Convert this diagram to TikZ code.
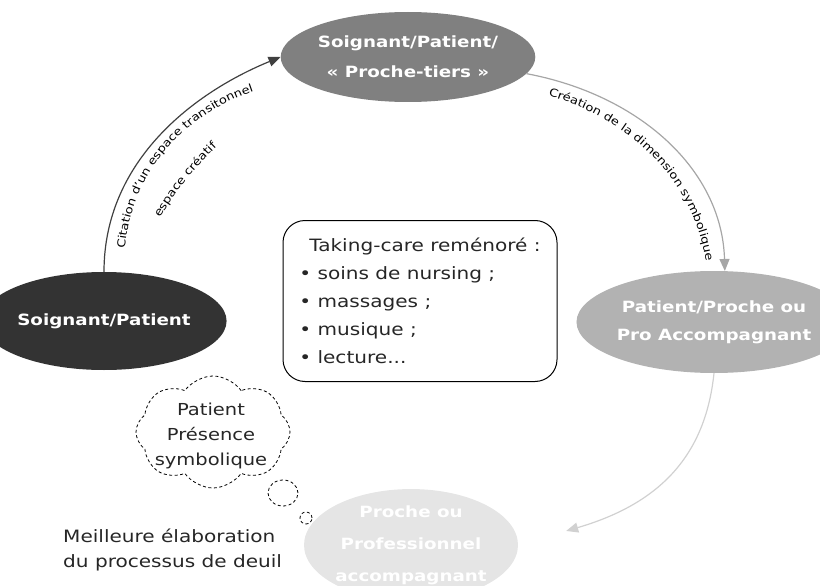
\documentclass[tikz,border=0pt]{standalone}
\usepackage{fontspec}
\setmainfont[FakeStretch=1.18]{DejaVu Sans}
\usepackage{tikz}
\usetikzlibrary{arrows.meta,shapes.geometric,shapes.symbols,decorations.text}

\begin{document}
\begin{tikzpicture}[x=1pt,y=-1pt,
        etat/.style={ellipse,inner sep=0pt,text=white,align=center,
                font=\bfseries\fontsize{15.5}{30}\selectfont},
        fleche/.style={line width=1.2pt,-{Triangle[length=12pt,width=10pt]}},
        texte/.style={text=black!85,align=center,font=\fontsize{17}{25}\selectfont},
        tirets/.style={draw,line width=0.8pt,dash pattern=on 3pt off 2.5pt}]
        \useasboundingbox (0,0) rectangle (820,586);
        \node[etat,fill=black!50,minimum width=240pt,minimum height=90pt] (tiers) at (408,57) {Soignant/Patient/\\«~Proche-tiers~»};
        \node[etat,fill=black!80,minimum width=194pt,minimum height=98pt] (soignant) at (104,321) {Soignant/Patient};
        \node[etat,fill=black!30,minimum width=212pt,minimum height=102pt,font=\bfseries\fontsize{15.5}{28}\selectfont] (proche) at (714,322) {Patient/Proche ou\\Pro Accompagnant};
        \node[etat,fill=black!10,minimum width=208pt,minimum height=92pt,font=\bfseries\fontsize{15.5}{32}\selectfont] (accomp) at (411,545) {Proche ou\\Professionnel\\accompagnant};
        \node[texte,draw=black,line width=1pt,rounded corners=22pt,minimum width=274pt,minimum height=161pt,align=left,font=\fontsize{17}{28}\selectfont] (soins) at (420,301) {\hspace*{10pt}Taking-care reménoré :\\• soins de nursing ;\\• massages ;\\• musique ;\\• lecture...};
        \node[tirets,cloud,cloud puffs=8,cloud puff arc=110,aspect=1.35,minimum width=154pt,minimum height=112pt,inner sep=0pt] (pensee) at (213,432) {};
        \node[texte,font=\fontsize{16.5}{25}\selectfont] (presence) at (211,436) {Patient\\Présence\\symbolique};
        \node[tirets,ellipse,minimum width=30pt,minimum height=26pt] (bulle) at (283,493) {};
        \node[tirets,circle,minimum size=12pt,inner sep=0pt] (bulle2) at (306,518) {};
        \node[texte,anchor=west,align=left,inner sep=0pt] (deuil) at (63,550) {Meilleure élaboration\\du processus de deuil};

        \draw[fleche,black!75] (soignant.north) .. controls (104,160) and (195,92) .. (tiers.west);
        \draw[fleche,black!35] (tiers.-8) .. controls (640,95) and (722,170) .. (proche.78);
        \draw[fleche,black!18,shorten >=50pt] (proche.south) .. controls (705,460) and (655,505) .. (accomp.east);

        \path[decorate,decoration={text along path,text align=center,
                text={|\fontsize{11}{12}\selectfont|Citation d'un espace transitonnel}}]
                (124,268) .. controls (124,175) and (185,108) .. (272,86);
        \path[decorate,decoration={text along path,text align=center,
                text={|\fontsize{11}{12}\selectfont|espace créatif}}]
                (150,240) .. controls (165,200) and (200,160) .. (235,130);
        \path[decorate,decoration={text along path,text align=center,
                text={|\fontsize{11}{12}\selectfont|Création de la dimension symbolique}}]
                (528,90) .. controls (630,113) and (703,185) .. (708,282);
    \end{tikzpicture}
\end{document}
